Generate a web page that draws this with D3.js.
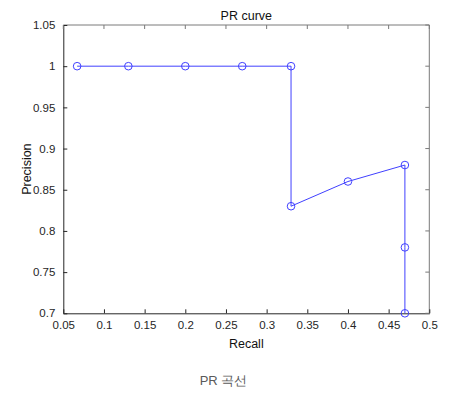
<!DOCTYPE html>
<html>
<head>
<meta charset="utf-8">
<script src="https://cdn.jsdelivr.net/npm/d3@7"></script>
<style>
  body { margin: 0; background: #fff; }
  svg text { font-family: "Liberation Sans", Arial, sans-serif; }
</style>
</head>
<body>
<div id="chart"></div>
<script>
const recall = [0.067, 0.13, 0.2, 0.27, 0.33, 0.33, 0.4, 0.47, 0.47, 0.47];
const precision = [1, 1, 1, 1, 1, 0.83, 0.86, 0.88, 0.78, 0.70];
const xTicks = [0.05, 0.1, 0.15, 0.2, 0.25, 0.3, 0.35, 0.4, 0.45, 0.5];
const yTicks = [0.7, 0.75, 0.8, 0.85, 0.9, 0.95, 1, 1.05];

const W = 459, H = 398;
const mLeft = 63.3, mRight = 429.3, mTop = 25, mBottom = 313.3;
const axisColor = "#262626";
const lineColor = "#4040ff";

const svg = d3.select("#chart").append("svg")
    .attr("width", W)
    .attr("height", H);

const x = d3.scaleLinear().domain([0.05, 0.5]).range([mLeft, mRight]);
const y = d3.scaleLinear().domain([0.7, 1.05]).range([mBottom, mTop]);

const fmt = d => String(+d.toFixed(2));

// box (top + right)
svg.append("path")
    .attr("d", `M${mLeft},${mTop}H${mRight}V${mBottom}`)
    .attr("fill", "none")
    .attr("stroke", "#7a7a7a")
    .attr("stroke-width", 1);

// bottom axis
const xAxis = svg.append("g")
    .attr("transform", `translate(0,${mBottom})`)
    .call(d3.axisBottom(x).tickValues(xTicks).tickFormat(fmt).tickSizeInner(-4).tickSizeOuter(0).tickPadding(8));
// left axis
const yAxis = svg.append("g")
    .attr("transform", `translate(${mLeft},0)`)
    .call(d3.axisLeft(y).tickValues(yTicks).tickFormat(fmt).tickSizeInner(-4).tickSizeOuter(0).tickPadding(8));

[xAxis, yAxis].forEach(g => {
    g.select(".domain").attr("stroke", axisColor);
    g.selectAll(".tick line").attr("stroke", axisColor);
    g.selectAll(".tick text").attr("fill", axisColor).attr("font-size", 11.5)
        .attr("font-family", "'Liberation Sans', Arial, sans-serif");
});

// top and right ticks
svg.append("g").selectAll("line").data(xTicks).join("line")
    .attr("x1", d => x(d)).attr("x2", d => x(d))
    .attr("y1", mTop).attr("y2", mTop + 4)
    .attr("stroke", "#7a7a7a");
svg.append("g").selectAll("line").data(yTicks).join("line")
    .attr("x1", mRight).attr("x2", mRight - 4)
    .attr("y1", d => y(d)).attr("y2", d => y(d))
    .attr("stroke", "#7a7a7a");

const pts = recall.map((r, i) => [r, precision[i]]);

svg.append("path")
    .datum(pts)
    .attr("fill", "none")
    .attr("stroke", lineColor)
    .attr("stroke-width", 1)
    .attr("d", d3.line().x(d => x(d[0])).y(d => y(d[1])));

svg.append("g").selectAll("circle").data(pts).join("circle")
    .attr("cx", d => x(d[0]))
    .attr("cy", d => y(d[1]))
    .attr("r", 3.8)
    .attr("fill", "none")
    .attr("stroke", lineColor)
    .attr("stroke-width", 1);

svg.append("text")
    .attr("x", (mLeft + mRight) / 2)
    .attr("y", 20)
    .attr("text-anchor", "middle")
    .attr("font-size", 12.5)
    .attr("fill", "#111")
    .text("PR curve");

svg.append("text")
    .attr("x", (mLeft + mRight) / 2)
    .attr("y", 348)
    .attr("text-anchor", "middle")
    .attr("font-size", 12.5)
    .attr("fill", "#111")
    .text("Recall");

svg.append("text")
    .attr("transform", `translate(31,${(mTop + mBottom) / 2}) rotate(-90)`)
    .attr("text-anchor", "middle")
    .attr("font-size", 12.5)
    .attr("fill", "#111")
    .text("Precision");

svg.append("text")
    .attr("x", 223.5)
    .attr("y", 385)
    .attr("text-anchor", "middle")
    .attr("font-size", 13)
    .attr("font-family", "'Noto Sans CJK KR', 'Noto Sans', sans-serif")
    .attr("fill", "#5a5a5a")
    .text("PR 곡선");
</script>
</body>
</html>
